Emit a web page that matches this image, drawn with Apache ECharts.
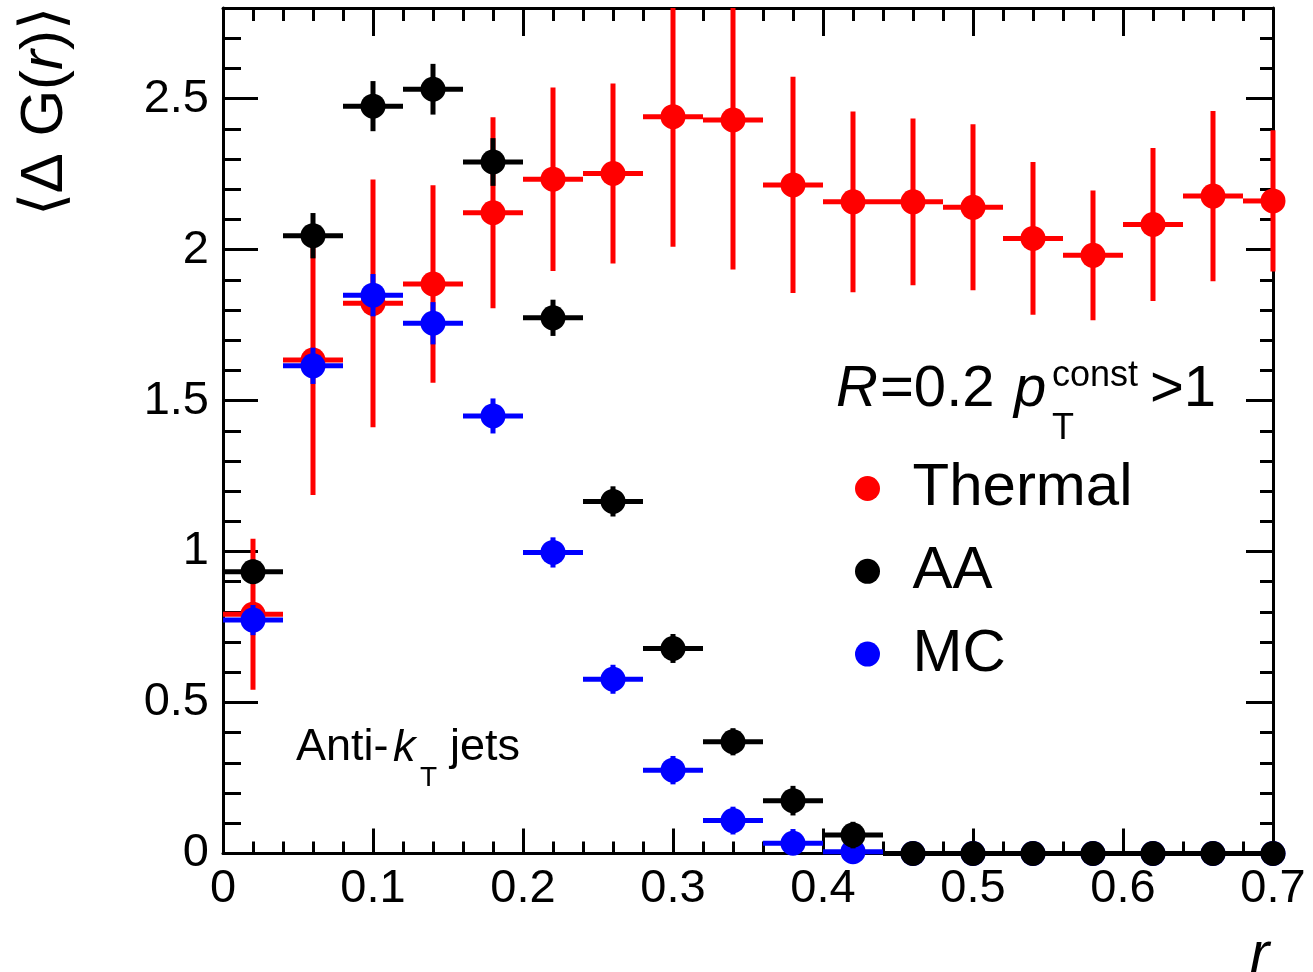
<!DOCTYPE html>
<html><head><meta charset="utf-8">
<script src="https://cdn.jsdelivr.net/npm/echarts@6/dist/echarts.min.js"></script>
<style>html,body{margin:0;padding:0;background:#fff}#c{width:1313px;height:972px}</style>
</head><body><div id="c"></div>
<script>
// ---- data ----
const rCenters = [0.02,0.06,0.10,0.14,0.18,0.22,0.26,0.30,0.34,0.38,0.42,0.46,0.50,0.54,0.58,0.62,0.66,0.70];
const binWidth = 0.04;
const thermalVals = [0.792,1.634,1.822,1.886,2.122,2.233,2.252,2.440,2.429,2.214,2.158,2.158,2.140,2.037,1.981,2.083,2.177,2.161];
const thermalErrs = [0.250,0.447,0.410,0.327,0.316,0.304,0.298,0.431,0.495,0.358,0.299,0.276,0.275,0.253,0.215,0.253,0.282,0.234];
const aaVals = [0.933,2.046,2.475,2.531,2.290,1.774,1.166,0.679,0.370,0.175,0.061,0,0,0,0,0,0,0];
const aaErrs = [0.040,0.075,0.083,0.084,0.079,0.060,0.050,0.048,0.045,0.049,0.044,0,0,0,0,0,0,0];
const mcVals = [0.773,1.615,1.849,1.756,1.449,0.997,0.577,0.276,0.109,0.034,0.006,0,0,0,0,0,0,0];
const mcErrs = [0.050,0.060,0.070,0.070,0.058,0.050,0.048,0.047,0.046,0.047,0.035,0,0,0,0,0,0,0];
const seriesNames = ['Thermal','AA','MC'];
const xTicks = [0,0.1,0.2,0.3,0.4,0.5,0.6,0.7];
const yTicks = [0,0.5,1,1.5,2,2.5];

const FONT = 'Liberation Sans, Arial, Helvetica, sans-serif';
const colors = {Thermal:'#ff0000', AA:'#000000', MC:'#0000ff'};

function makeRender(color){
  return function(params, api){
    const x = api.value(0), y = api.value(1), e = api.value(2);
    const cs = params.coordSys;
    const cx = v => Math.max(cs.x, Math.min(cs.x + cs.width, v));
    const cy = v => Math.max(cs.y, Math.min(cs.y + cs.height, v));
    const pC = api.coord([x, y]);
    const pL = api.coord([x - binWidth/2, y]);
    const pR = api.coord([x + binWidth/2, y]);
    const pT = api.coord([x, y + e]);
    const pB = api.coord([x, y - e]);
    const ch = [{type:'line', shape:{x1:cx(pL[0]), y1:pC[1], x2:cx(pR[0]), y2:pC[1]}, style:{stroke:color, lineWidth:5}}];
    if (e > 0) ch.push({type:'line', shape:{x1:pC[0], y1:cy(pT[1]), x2:pC[0], y2:cy(pB[1])}, style:{stroke:color, lineWidth:5}});
    ch.push({type:'circle', shape:{cx:pC[0], cy:pC[1], r:12.5}, style:{fill:color}});
    return {type:'group', children:ch};
  };
}
function mkSeries(name, vals, errs){
  return {
    type:'custom', name:name, clip:false, xAxisIndex:0, yAxisIndex:0,
    itemStyle:{color:colors[name]},
    encode:{x:0, y:1},
    renderItem: makeRender(colors[name]),
    data: rCenters.map((r,i)=>[r, vals[i], errs[i]])
  };
}
const tickStyle = {color:'#000', width:3};
function xAx(pos, interval, len, main){
  return {type:'value', position:pos, min:0, max:0.7, interval:interval,
    axisLine:{show:main, onZero:false, lineStyle:{color:'#000', width:3}},
    axisTick:{show:true, inside:true, length:len, lineStyle:tickStyle},
    axisLabel:{show: main && pos==='bottom', margin:12, fontSize:47, fontFamily:FONT, color:'#000',
      formatter: v => { const t = xTicks.find(k => Math.abs(k - v) < 1e-9); return t === undefined ? '' : String(t); }},
    splitLine:{show:false}};
}
function yAx(pos, interval, len, main){
  return {type:'value', position:pos, min:0, max:2.8, interval:interval,
    axisLine:{show:main, onZero:false, lineStyle:{color:'#000', width:3}},
    axisTick:{show:true, inside:true, length:len, lineStyle:tickStyle},
    axisLabel:{show: main && pos==='left', margin:14, fontSize:47, fontFamily:FONT, color:'#000', showMaxLabel:false,
      formatter: v => { const t = yTicks.find(k => Math.abs(k - v) < 1e-9); return t === undefined ? '' : String(t); }},
    splitLine:{show:false}};
}

const chart = echarts.init(document.getElementById('c'), null, {renderer:'canvas'});
chart.setOption({
  animation:false,
  backgroundColor:'#fff',
  grid:{left:223, right:40, top:8, bottom:118.5, containLabel:false},
  xAxis:[xAx('bottom',0.1,25,true), xAx('bottom',0.02,12,false), xAx('top',0.1,28,true), xAx('top',0.02,13,false)],
  yAxis:[yAx('left',0.5,35,true), yAx('left',0.1,18,false), yAx('right',0.5,27,true), yAx('right',0.1,13,false)],
  legend:{
    orient:'vertical', left:850, top:453.5, itemWidth:80, itemHeight:25, itemGap:22.8,
    icon:'circle', selectedMode:false,
    textStyle:{fontSize:60, fontFamily:FONT, color:'#000', lineHeight:58},
    data: seriesNames.map(n => ({name:n, itemStyle:{color:colors[n]}}))
  },
  series:[
    mkSeries('Thermal', thermalVals, thermalErrs),
    mkSeries('MC', mcVals, mcErrs),
    mkSeries('AA', aaVals, aaErrs)
  ],
  graphic:[
    {type:'text', x:45, y:7, rotation:Math.PI/2, style:{text:'{n|⟨Δ G(}{i|r}{n|)⟩}', align:'right', verticalAlign:'middle',
      rich:{n:{fontSize:60, fontFamily:FONT, fill:'#000'}, i:{fontSize:60, fontFamily:FONT, fontStyle:'italic', fill:'#000'}}}},
    {type:'text', x:1250, y:956, style:{text:'r', fontSize:58, fontFamily:FONT, fontStyle:'italic', fill:'#000', verticalAlign:'middle'}},
    {type:'text', x:836, y:390, style:{text:'R', fontSize:58, fontFamily:FONT, fontStyle:'italic', fill:'#000', verticalAlign:'middle'}},
    {type:'text', x:880, y:390, style:{text:'=0.2', fontSize:58, fontFamily:FONT, fill:'#000', verticalAlign:'middle'}},
    {type:'text', x:1014, y:390, style:{text:'p', fontSize:58, fontFamily:FONT, fontStyle:'italic', fill:'#000', verticalAlign:'middle'}},
    {type:'text', x:1052, y:376.5, style:{text:'const', fontSize:36, fontFamily:FONT, fill:'#000', verticalAlign:'middle'}},
    {type:'text', x:1052, y:429, style:{text:'T', fontSize:36, fontFamily:FONT, fill:'#000', verticalAlign:'middle'}},
    {type:'text', x:1150, y:390, style:{text:'>1', fontSize:58, fontFamily:FONT, fill:'#000', verticalAlign:'middle'}},
    {type:'text', x:296, y:748, style:{text:'Anti-', fontSize:45, fontFamily:FONT, fill:'#000', verticalAlign:'middle'}},
    {type:'text', x:393, y:748, style:{text:'k', fontSize:45, fontFamily:FONT, fontStyle:'italic', fill:'#000', verticalAlign:'middle'}},
    {type:'text', x:420, y:778, style:{text:'T', fontSize:28, fontFamily:FONT, fill:'#000', verticalAlign:'middle'}},
    {type:'text', x:450, y:748, style:{text:'jets', fontSize:45, fontFamily:FONT, fill:'#000', verticalAlign:'middle'}}
  ]
});
</script></body></html>
